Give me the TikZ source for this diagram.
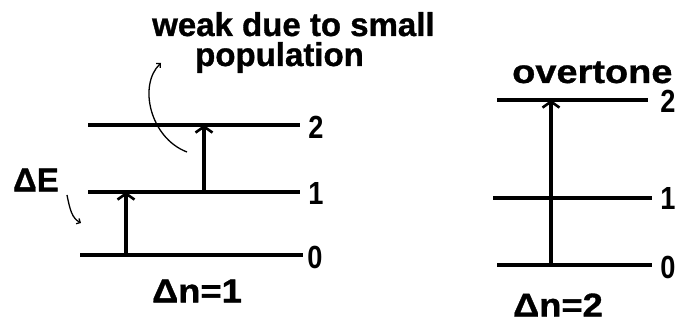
\documentclass[tikz,border=0pt]{standalone}
\usepackage{fontspec}
\setmainfont{Liberation Sans}
\newfontfamily\labfont{Liberation Sans}[FakeBold=1]
\newfontfamily\wfont{Liberation Sans}[FakeBold=1,FakeStretch=1.1]
\newfontfamily\overfont{Liberation Sans}[FakeBold=1,FakeStretch=1.15]
\newfontfamily\numfont{Liberation Sans}[FakeStretch=0.85]
\usetikzlibrary{arrows.meta}
\begin{document}
\begin{tikzpicture}[x=1pt,y=-1pt,
  level/.style={line width=4pt},
  trans/.style={line width=3.2pt,-{Straight Barb[length=6pt,width=17pt,line width=2.6pt]}},
  pointer/.style={line width=1.3pt,-{Straight Barb[length=3pt,width=6pt,line width=1.3pt]}},
  txt/.style={inner sep=0pt,font=\labfont\bfseries\fontsize{33}{38}\selectfont},
  num/.style={inner sep=0pt,font=\numfont\bfseries\fontsize{32}{38}\selectfont}]
\useasboundingbox (0,0) rectangle (689,326);
% left diagram levels
\coordinate (a2w) at (88,125);  \coordinate (a2e) at (300,125);
\coordinate (a1w) at (88,192);  \coordinate (a1e) at (300,192);
\coordinate (a0w) at (80,255);  \coordinate (a0e) at (303,255);
\draw[level] (a2w) -- (a2e);
\draw[level] (a1w) -- (a1e);
\draw[level] (a0w) -- (a0e);
\node[num] (na2) at (316,127) {2};
\node[num] (na1) at (316,193) {1};
\node[num] (na0) at (315,257) {0};
% right diagram levels
\coordinate (b2w) at (497,100); \coordinate (b2e) at (648,100);
\coordinate (b1w) at (493,198); \coordinate (b1e) at (652,198);
\coordinate (b0w) at (497,265); \coordinate (b0e) at (652,265);
\draw[level] (b2w) -- (b2e);
\draw[level] (b1w) -- (b1e);
\draw[level] (b0w) -- (b0e);
\node[num] (nb2) at (668,101) {2};
\node[num] (nb1) at (668,198) {1};
\node[num] (nb0) at (668,267) {0};
% transitions
\coordinate (t1s) at (126,255); \coordinate (t1e) at (126,192);
\coordinate (t2s) at (204,192); \coordinate (t2e) at (204,125);
\coordinate (t3s) at (551,265); \coordinate (t3e) at (551,100);
\draw[trans] (t1s) -- (t1e);
\draw[trans] (t2s) -- (t2e);
\draw[trans] (t3s) -- (t3e);
% texts
\node[txt,anchor=base west] (weak) at (152,36) {weak due to small};
\node[txt,anchor=base west] (pop) at (195,66) {population};
\node[txt,anchor=base west,font=\overfont\bfseries\fontsize{33}{38}\selectfont] (over) at (512,83) {overtone};
\node[txt] (dE) at (36,180) {ΔE};
\node[txt,font=\wfont\bfseries\fontsize{33}{38}\selectfont] (dn1) at (197,291) {Δn=1};
\node[txt,font=\wfont\bfseries\fontsize{33}{38}\selectfont] (dn2) at (558,305) {Δn=2};
% pointers
\coordinate (p1s) at (187,152); \coordinate (p1e) at (161,63);
\draw[pointer] (p1s) .. controls (150,138) and (138,85) .. (p1e);
\coordinate (p2s) at (67,195); \coordinate (p2e) at (81,223);
\draw[pointer] (p2s) .. controls (70,210) and (72,218) .. (p2e);
\end{tikzpicture}
\end{document}
